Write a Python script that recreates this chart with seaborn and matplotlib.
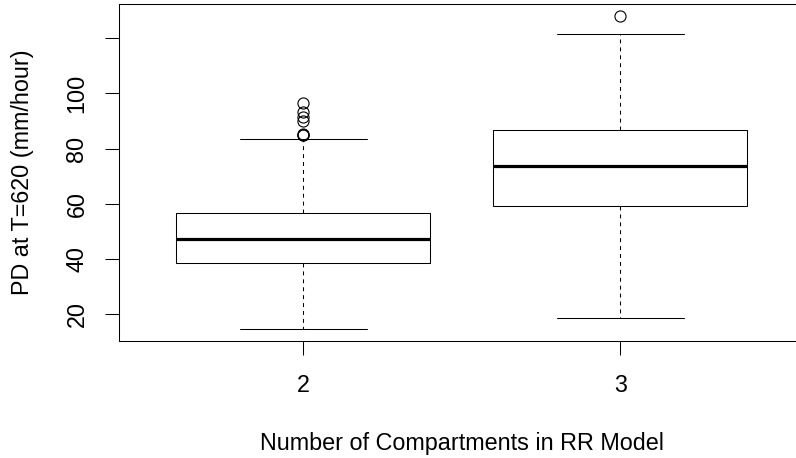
import matplotlib
matplotlib.use("Agg")
import matplotlib.pyplot as plt
import seaborn as sns
import pandas as pd

# Values (PD at T=620, mm/hour)
compartments = ["2", "3"]
pd_two = [14.6, 20, 25, 28, 31, 34, 36, 38,
          38.5,
          40, 41.5, 43, 44, 45, 46, 47,
          47.3,
          49, 50.5, 52, 53.5, 55, 56, 56.3,
          56.5,
          83.3, 84.8, 85.0, 85.2, 90.0, 91.5, 93.3, 96.5]
pd_three = [18.55, 35, 50,
            59.3,
            64, 69,
            73.7,
            78, 83,
            86.6,
            100, 121.7, 128.1]
ytick_values = [20, 40, 60, 80, 100, 120]
ytick_labels = ["20", "40", "60", "80", "100", ""]

df = pd.DataFrame({
    "n": [compartments[0]] * len(pd_two) + [compartments[1]] * len(pd_three),
    "pd": pd_two + pd_three,
})

sns.set_theme(style="white")
plt.rcParams["font.family"] = ["Liberation Sans", "DejaVu Sans"]

FS = 16.8
W, H = 796, 458
fig = plt.figure(figsize=(W / 100, H / 100), dpi=100)
left, right, top, bottom = 119, 804.4, 4, 341
ax = fig.add_axes([left / W, 1 - bottom / H, (right - left) / W, (bottom - top) / H])

sns.boxplot(
    data=df, x="n", y="pd", order=compartments, ax=ax,
    width=0.8, whis=1.5, color="white", linecolor="black", linewidth=0.75,
    fliersize=8,
    medianprops=dict(color="black", linewidth=2.3),
    whiskerprops=dict(color="black", linewidth=0.75, linestyle=(0, (3.8, 3.8))),
    capprops=dict(color="black", linewidth=0.75),
    boxprops=dict(facecolor="white", edgecolor="black", linewidth=0.75),
    flierprops=dict(marker="o", markerfacecolor="none", markeredgecolor="black",
                    markeredgewidth=0.8),
)

ax.set_xlim(-0.58, 1.58)
ax.set_ylim(10.2, 132.4)
ax.set_yticks(ytick_values)
ax.set_yticklabels(ytick_labels, rotation=90, va="center")
for s in ax.spines.values():
    s.set_visible(True)
    s.set_color("black")
    s.set_linewidth(0.75)

ax.tick_params(axis="both", which="both", direction="out", length=10, width=0.75,
               color="black", labelsize=FS, labelcolor="black")
ax.tick_params(axis="x", pad=14, bottom=True, top=False)
ax.tick_params(axis="y", pad=12, left=True, right=False)

ax.set_xlabel("Number of Compartments in RR Model", fontsize=FS, color="black",
              va="baseline")
ax.set_ylabel("PD at T=620 (mm/hour)", fontsize=FS, color="black", va="center")
ax.xaxis.set_label_coords((462 - left) / (right - left), -(450 - bottom) / (bottom - top))
ax.yaxis.set_label_coords((23 - left) / (right - left), 0.5)

fig.savefig("out.png", dpi=100)
